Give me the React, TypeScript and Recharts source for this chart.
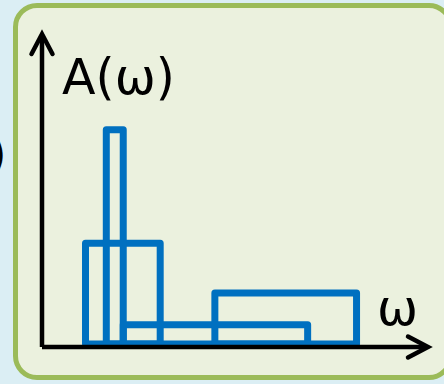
import { ComposedChart, XAxis, YAxis, ReferenceArea, Label, Scatter } from 'recharts';

// spectral function A(ω): outlined boxes, start/end on ω, height on A
const binStart = [1.13, 1.67, 2.11, 4.49];
const binEnd = [3.07, 2.11, 6.9, 8.17];
const binHeight = [3.26, 6.93, 0.62, 1.65];

const X_DOMAIN: [number, number] = [0, 10];
const Y_DOMAIN: [number, number] = [-0.1, 10];

const BLUE = '#0070c0';
const FONT = '"DejaVu Sans", sans-serif';

// box corners, only so the axes have something to scale
const corners = binStart.map((s, i) => ({ x: s, y: binHeight[i] }));

export default function App() {
  return (
    <div
      style={{
        position: 'fixed',
        left: 0,
        top: 0,
        width: 444,
        height: 384,
        overflow: 'hidden',
        background: '#dbeef4',
        fontFamily: FONT,
      }}
    >
      {/* clipped text from the neighbouring panel */}
      <div style={{ position: 'absolute', left: -12, top: 130, fontSize: 48, lineHeight: 1, color: '#000' }}>)</div>

      {/* panel */}
      <div
        style={{
          position: 'absolute',
          left: 13,
          top: 3,
          width: 440,
          height: 377,
          boxSizing: 'border-box',
          border: '5px solid #9bbb59',
          borderRadius: 24,
          background: '#ebf1de',
        }}
      />

      <div style={{ position: 'absolute', left: 0, top: 0 }}>
        <ComposedChart width={444} height={384} margin={{ top: 35, right: 17, bottom: 36, left: 41 }}>
          <defs>
            <marker
              id="arrowHead"
              markerUnits="userSpaceOnUse"
              viewBox="-26 -16 32 32"
              markerWidth={32}
              markerHeight={32}
              refX={0}
              refY={0}
              orient="auto-start-reverse"
            >
              <path d="M -19 -10.5 L 1 0 L -19 10.5" fill="none" stroke="#000" strokeWidth={4.5} strokeLinecap="round" strokeLinejoin="miter" />
            </marker>
          </defs>
          <XAxis
            type="number"
            dataKey="x"
            domain={X_DOMAIN}
            allowDataOverflow
            height={1}
            tick={false}
            tickLine={false}
            axisLine={{ stroke: '#000', strokeWidth: 4.5, markerEnd: 'url(#arrowHead)' }}
          >
            <Label
              content={() => (
                <text x={377} y={325} fontSize={49} fontFamily={FONT} fill="#000">
                  ω
                </text>
              )}
            />
          </XAxis>
          <YAxis
            type="number"
            dataKey="y"
            domain={Y_DOMAIN}
            allowDataOverflow
            width={1}
            tick={false}
            tickLine={false}
            axisLine={{ stroke: '#000', strokeWidth: 4.5, markerStart: 'url(#arrowHead)' }}
          >
            <Label
              content={() => (
                <text x={62} y={94} fontSize={49} fontFamily={FONT} fill="#000">
                  A(ω)
                </text>
              )}
            />
          </YAxis>
          <Scatter data={corners} dataKey="y" shape={() => null} isAnimationActive={false} />
          {binStart.map((s, i) => (
            <ReferenceArea
              key={i}
              x1={s}
              x2={binEnd[i]}
              y1={0}
              y2={binHeight[i]}
              fill="none"
              fillOpacity={0}
              stroke={BLUE}
              strokeWidth={7}
              strokeOpacity={1}
              strokeLinejoin="round"
            />
          ))}
        </ComposedChart>
      </div>
    </div>
  );
}
